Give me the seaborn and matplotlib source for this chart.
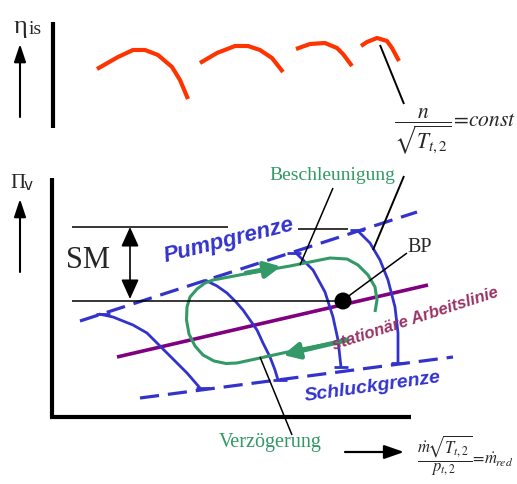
import numpy as np
import pandas as pd
import seaborn as sns
import matplotlib.pyplot as plt

# Werte (Bildkoordinaten in Pixel, y nach unten)

# Wirkungsgrad-Kurven (oben, rot)
eta_k1_x = [97, 118, 133, 145, 158, 172, 180, 188]
eta_k1_y = [69, 57, 50, 50, 55, 67, 80, 99]
eta_k2_x = [200, 217, 235, 248, 260, 272, 283]
eta_k2_y = [63, 53, 46, 46, 50, 58, 72]
eta_k3_x = [296, 310, 325, 337, 343, 352]
eta_k3_y = [49, 44, 43, 48, 54, 66]
eta_k4_x = [361, 367, 377, 387, 392, 399]
eta_k4_y = [46, 42, 38, 41, 48, 61]

# Drehzahllinien n/sqrt(T) = const (blau)
n1_x = [99, 113, 133, 147, 167, 187, 200]
n1_y = [314, 317, 325, 333, 353, 373, 388]
n2_x = [205, 217, 227, 236, 243, 250, 257, 263, 270, 275, 278]
n2_y = [280, 286, 293, 302, 310, 320, 330, 343, 357, 370, 380]
n3_x = [296, 313, 325, 333, 338, 341]
n3_y = [253, 270, 292, 317, 340, 367]
n4_x = [358, 370, 380, 388, 395, 398, 398]
n4_y = [231, 243, 260, 280, 307, 333, 363]

# Grenzen und Arbeitslinie
pump_x = [80, 417]
pump_y = [321, 212]
schluck_x = [140, 453]
schluck_y = [398, 357]
arbeit_x = [117, 428]
arbeit_y = [357, 285]
bp_x, bp_y = 343, 301

# Beschleunigungs-/Verzoegerungsschleife (gruen)
schleife_x = [347, 297, 283, 237, 226, 214, 203, 195, 189, 186.5, 187, 190,
              197, 205, 213, 250, 290, 330, 347, 358, 368, 375, 377, 375]
schleife_y = [340, 350, 353, 363, 363.5, 361, 355, 346, 334, 320, 307, 297,
              289, 283, 280, 273, 266, 258, 259, 265, 275, 287, 300, 312]

BLAU = '#3333cc'
GRUEN = '#339966'
ROT = '#ff3300'
LILA = '#800080'
WEINROT = '#993366'

sns.set_theme(style='white')
plt.rcParams['font.family'] = ['Liberation Serif', 'DejaVu Serif']
plt.rcParams['mathtext.fontset'] = 'stix'
SCHMAL = ['Liberation Sans', 'DejaVu Sans']

fig = plt.figure(figsize=(5.17, 4.84), dpi=100)
ax = fig.add_axes([0, 0, 1, 1])


def kurve(xs, ys, farbe, lw, ls='-'):
    sns.lineplot(x=xs, y=ys, sort=False, estimator=None, color=farbe,
                 lw=lw, ls=ls, ax=ax, legend=False,
                 solid_capstyle='butt', dash_capstyle='butt')


def pfeil(x0, y0, x1, y1, farbe='black', lw=1.2, stil='-|>,head_length=0.8,head_width=0.3'):
    ax.annotate('', xy=(x1, y1), xytext=(x0, y0),
                arrowprops=dict(arrowstyle=stil, color=farbe, lw=lw,
                                shrinkA=0, shrinkB=0))


# rote Kurven per units in einem Aufruf
eta = pd.DataFrame({
    'x': eta_k1_x + eta_k2_x + eta_k3_x + eta_k4_x,
    'y': eta_k1_y + eta_k2_y + eta_k3_y + eta_k4_y,
    'kurve': [1] * len(eta_k1_x) + [2] * len(eta_k2_x) + [3] * len(eta_k3_x) + [4] * len(eta_k4_x),
})
sns.lineplot(data=eta, x='x', y='y', units='kurve', estimator=None, sort=False,
             color=ROT, lw=3, ax=ax, legend=False, solid_capstyle='butt')

# Achsen
kurve([53, 53], [22, 128], 'black', 3)
kurve([52, 52], [178, 418], 'black', 3)
kurve([50, 411], [417, 417], 'black', 3)
pfeil(20, 117, 20, 44, lw=1.5, stil='-|>,head_length=0.9,head_width=0.3')
pfeil(20, 272, 20, 199, lw=1.5, stil='-|>,head_length=0.9,head_width=0.3')
pfeil(345, 452, 404, 452, lw=1.6, stil='-|>,head_length=1.0,head_width=0.35')

# Grenzen
kurve(pump_x, pump_y, BLAU, 2.3, ls=(0, (6, 2.8)))
kurve(schluck_x, schluck_y, BLAU, 2.3, ls=(0, (6, 2.8)))
kurve(arbeit_x, arbeit_y, LILA, 2.6)

# Drehzahllinien mit Endstrichen
for xs, ys in [(n1_x, n1_y), (n2_x, n2_y), (n3_x, n3_y), (n4_x, n4_y)]:
    kurve(xs, ys, BLAU, 2)
for cx, cy in [(103, 314), (294, 253), (357, 230),
               (203, 388), (280, 380), (341, 367), (398, 363)]:
    kurve([cx - 7, cx + 7], [cy, cy], BLAU, 2)

# Schleife und Pfeile
kurve(schleife_x, schleife_y, GRUEN, 2.2)
pfeil(246, 273, 281, 266.5, farbe=GRUEN, lw=3.4,
      stil='-|>,head_length=0.8,head_width=0.4')
pfeil(347, 340, 283, 355, farbe=GRUEN, lw=3.4,
      stil='-|>,head_length=0.8,head_width=0.4')

# Pumpgrenzabstand SM
kurve([72, 228], [227, 227], 'black', 1.1)
kurve([298, 348], [228.5, 228.5], 'black', 1.1)
kurve([72, 343], [301, 301], 'black', 1.1)
pfeil(130, 227, 130, 299, lw=1.2, stil='<|-|>,head_length=1.0,head_width=0.45')

# Betriebspunkt
sns.scatterplot(x=[bp_x], y=[bp_y], color='black', s=150, ax=ax, zorder=6,
                edgecolor='none', legend=False)

# Hinweislinien
kurve([380, 404], [45, 104], 'black', 1.4)
kurve([373, 404], [250, 176], 'black', 1.4)
kurve([300, 333], [265, 188], 'black', 1.1)
kurve([260, 292], [357, 435], 'black', 1.1)
kurve([346, 407], [298, 253], 'black', 1.1)

# Texte
ax.text(14, 27, 'η', fontsize=19, va='center', ha='left')
ax.text(29, 30, 'is', fontsize=14, va='center', ha='left')
ax.text(10, 183, 'Π', fontsize=15, va='center', ha='left')
ax.text(24, 186, 'v', fontsize=11, va='center', ha='left', family='DejaVu Sans')
ax.text(88, 261, 'SM', fontsize=22, va='center', ha='center')
ax.text(420, 247, 'BP', fontsize=14.5, va='center', ha='center')
ax.text(332, 175, 'Beschleunigung', fontsize=14, color=GRUEN, va='center', ha='center')
ax.text(270, 443, 'Verzögerung', fontsize=14.5, color=GRUEN, va='center', ha='center')

ax.text(229, 241, 'Pumpgrenze', fontsize=16, color=BLAU, fontweight='bold',
        style='italic', family=SCHMAL, rotation=14, rotation_mode='anchor',
        ha='center', va='center')
ax.text(373, 387, 'Schluckgrenze', fontsize=14, color=BLAU, fontweight='bold',
        style='italic', family=SCHMAL, rotation=8, rotation_mode='anchor',
        ha='center', va='center')
ax.text(415, 319, 'stationäre Arbeitslinie', fontsize=12, color=WEINROT,
        fontweight='bold', style='italic', family=SCHMAL, rotation=18,
        rotation_mode='anchor', ha='center', va='center')

ax.text(394, 131, r'$\dfrac{n}{\sqrt{T_{t,2}}}\!=\!const$', fontsize=15.5,
        va='center', ha='left')
ax.text(417, 456, r'$\dfrac{\dot{m}\!\sqrt{T_{t,2}}}{p_{t,2}}\!=\!\dot{m}_{\!red}$',
        fontsize=12, va='center', ha='left')

ax.set_xlim(0, 517)
ax.set_ylim(484, 0)
ax.axis('off')

fig.savefig('out.png', dpi=100)
